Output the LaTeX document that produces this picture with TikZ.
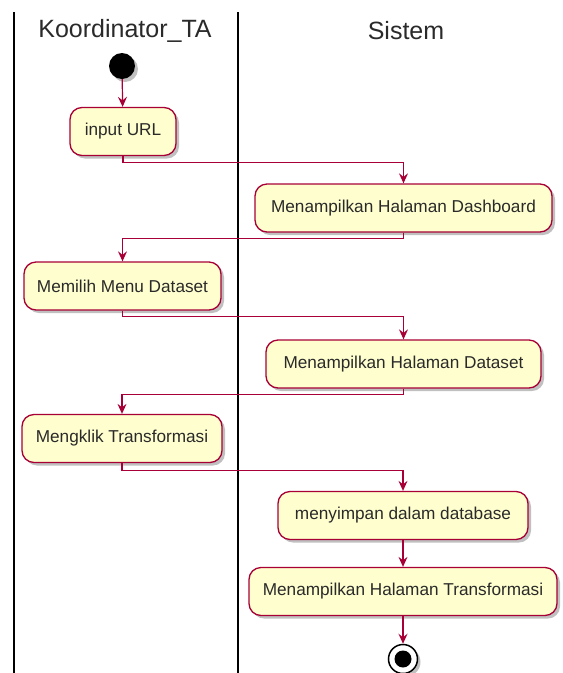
\documentclass[tikz,border=0pt]{standalone}
\usepackage{fontspec}
\setmainfont{Liberation Sans}
\usetikzlibrary{arrows.meta,shadows}
\definecolor{umlred}{HTML}{A80036}
\definecolor{umlfill}{HTML}{FEFECE}
\definecolor{umltext}{HTML}{2A2A2A}
\tikzset{
  act/.style={draw=umlred, line width=1.3pt, fill=umlfill, rounded corners=12pt,
    minimum height=48pt, inner sep=2pt, text=umltext, font=\fontsize{17.2}{19}\selectfont,
    drop shadow={shadow xshift=3pt, shadow yshift=-3pt, opacity=0.35, fill=black!70}},
  flow/.style={draw=umlred, line width=1.2pt, -{Stealth[length=10pt,width=9pt,inset=3.5pt]}},
  lane/.style={draw=black, line width=1.8pt},
  hdr/.style={text=umltext, font=\fontsize{25}{29}\selectfont, inner sep=0pt}
}
\begin{document}
\begin{tikzpicture}[x=1pt,y=-1pt]
\useasboundingbox (0,0) rectangle (563,673);
\fill[white] (0,0) rectangle (563,673);
% lanes
\coordinate (l1t) at (14,12); \coordinate (l1b) at (14,673);
\coordinate (l2t) at (238,12); \coordinate (l2b) at (238,673);
\draw[lane] (l1t) -- (l1b);
\draw[lane] (l2t) -- (l2b);
\node[hdr] (h1) at (125,31) {Koordinator\_TA};
\node[hdr] (h2) at (406,31) {Sistem};
% start
\node[circle, fill=black, minimum size=26pt, inner sep=0pt,
  drop shadow={shadow xshift=3pt, shadow yshift=-3pt, opacity=0.35, fill=black!70}] (start) at (122,66) {};
% activities
\node[act, minimum width=106pt] (a1) at (123,131.5) {input URL};
\node[act, minimum width=297pt] (a2) at (403.5,208) {Menampilkan Halaman Dashboard};
\node[act, minimum width=197pt] (a3) at (122.5,286) {Memilih Menu Dataset};
\node[act, minimum width=275pt] (a4) at (403.5,364) {Menampilkan Halaman Dataset};
\node[act, minimum width=200pt] (a5) at (122,438.5) {Mengklik Transformasi};
\node[act, minimum width=250pt] (a6) at (403,515.5) {menyimpan dalam database};
\node[act, minimum width=308pt] (a7) at (403,591.5) {Menampilkan Halaman Transformasi};
% end
\node[circle, draw=black, line width=1.5pt, fill=white, minimum size=29pt, inner sep=0pt,
  drop shadow={shadow xshift=3pt, shadow yshift=-3pt, opacity=0.35, fill=black!70}] (end) at (403,659) {};
\node[circle, fill=black, minimum size=17pt, inner sep=0pt] (endin) at (end) {};
% flows
\draw[flow] (start) -- (a1);
\draw[flow] (a1.south) -- ++(0,6) -| (a2.north);
\draw[flow] (a2.south) -- ++(0,6) -| (a3.north);
\draw[flow] (a3.south) -- ++(0,6) -| (a4.north);
\draw[flow] (a4.south) -- ++(0,6) -| (a5.north);
\draw[flow] (a5.south) -- ++(0,7) -| (a6.north);
\draw[flow] (a6) -- (a7);
\draw[flow] (a7) -- (end);
\end{tikzpicture}
\end{document}
